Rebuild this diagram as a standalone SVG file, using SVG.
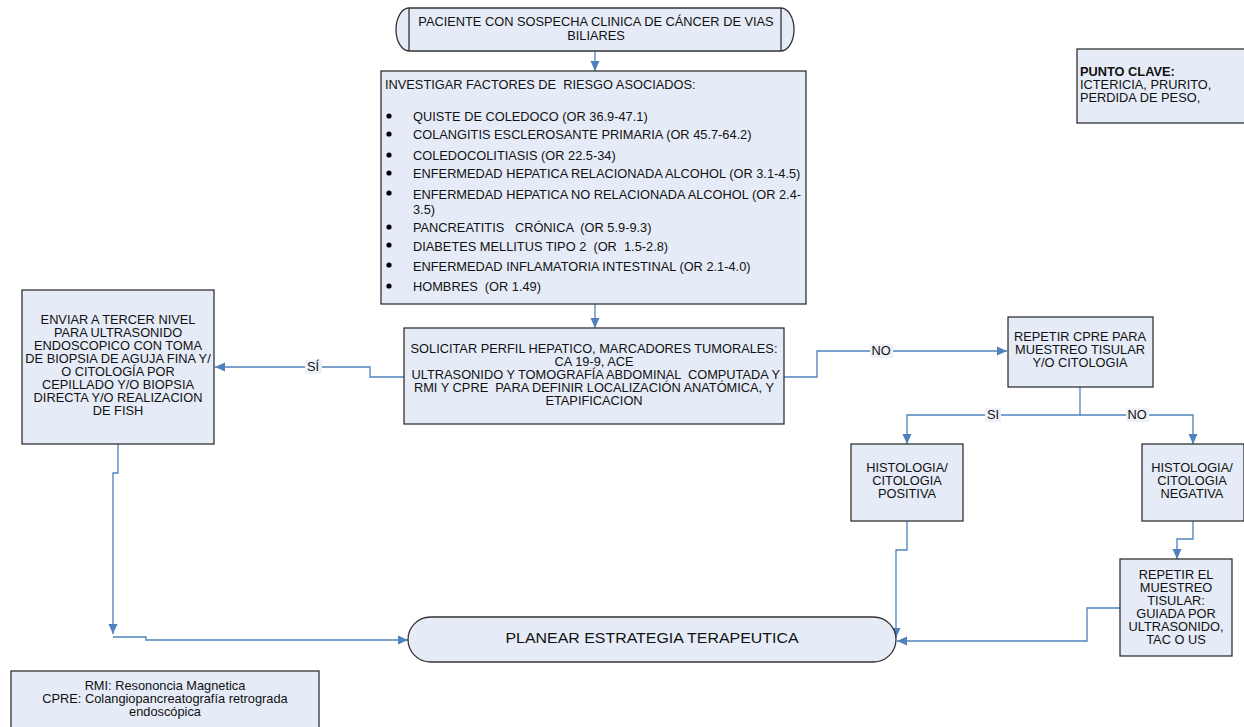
<svg xmlns="http://www.w3.org/2000/svg" width="1244" height="727" viewBox="0 0 1244 727">
<style>
.box{fill:#E6ECF7;stroke:#333;stroke-width:1.3}
.conn{fill:none;stroke:#4F81BD;stroke-width:1.3}
text{font-family:"Liberation Sans",Arial,sans-serif;font-size:12.8px;fill:#111}
.c{text-anchor:middle}
.lbl{fill:#EEF2F8}
</style>
<defs>
<marker id="ah" markerUnits="userSpaceOnUse" markerWidth="10" markerHeight="10" viewBox="0 0 10 10" refX="10" refY="5" orient="auto">
<path d="M0,0.5 L10,5 L0,9.5 z" fill="#4F81BD"/>
</marker>
</defs>
<rect width="1244" height="727" fill="#fff"/>

<g id="connectors">
<path class="conn" d="M595,51 V71" marker-end="url(#ah)"/>
<path class="conn" d="M595,304 V328" marker-end="url(#ah)"/>
<path class="conn" d="M404,377 H370 V367 H215" marker-end="url(#ah)"/>
<path class="conn" d="M784,377 H817 V351 H1007" marker-end="url(#ah)"/>
<path class="conn" d="M1080,387 V415 H907 V444" marker-end="url(#ah)"/>
<path class="conn" d="M1080,415 H1193 V444" marker-end="url(#ah)"/>
<path class="conn" d="M907,521 V550 H896 V638" marker-end="url(#ah)"/>
<path class="conn" d="M1193,521 V539 H1177 V559" marker-end="url(#ah)"/>
<path class="conn" d="M1120,608 H1087 V641 H897" marker-end="url(#ah)"/>
<path class="conn" d="M118,444 V473 H113 V634" marker-end="url(#ah)"/>
<path class="conn" d="M113,637 H146 V640 H408" marker-end="url(#ah)"/>
<rect class="lbl" x="305" y="360" width="17" height="14"/>
<text class="c" x="313" y="371">SÍ</text>
<rect class="lbl" x="870" y="344" width="23" height="14"/>
<text class="c" x="881" y="355">NO</text>
<rect class="lbl" x="985" y="408" width="16" height="14"/>
<text class="c" x="993" y="419">SI</text>
<rect class="lbl" x="1126" y="408" width="23" height="14"/>
<text class="c" x="1137" y="419">NO</text>
</g>

<g id="n-paciente">
<path class="box" d="M409,8 H781 A13,21.5 0 0 1 781,51 H409 A13,21.5 0 0 1 409,8 Z"/>
<path d="M409,8 V51 M781,8 V51" stroke="#333" stroke-width="1.3"/>
<text class="c"><tspan x="596" y="26">PACIENTE CON SOSPECHA CLINICA DE CÁNCER DE VIAS</tspan><tspan x="596" y="40">BILIARES</tspan></text>
</g>

<g id="n-factores">
<rect class="box" x="381" y="71" width="425" height="233"/>
<text x="385" y="89" xml:space="preserve">INVESTIGAR FACTORES DE  RIESGO ASOCIADOS:</text>
<g fill="#000">
<circle cx="389" cy="116" r="2.6"/>
<circle cx="389" cy="134" r="2.6"/>
<circle cx="389" cy="155" r="2.6"/>
<circle cx="389" cy="173" r="2.6"/>
<circle cx="389" cy="193" r="2.6"/>
<circle cx="389" cy="227" r="2.6"/>
<circle cx="389" cy="245" r="2.6"/>
<circle cx="389" cy="265" r="2.6"/>
<circle cx="389" cy="286" r="2.6"/>
</g>
<text x="413" y="121">QUISTE DE COLEDOCO (OR 36.9-47.1)</text>
<text x="413" y="139">COLANGITIS ESCLEROSANTE PRIMARIA (OR 45.7-64.2)</text>
<text x="413" y="160">COLEDOCOLITIASIS (OR 22.5-34)</text>
<text x="413" y="178">ENFERMEDAD HEPATICA RELACIONADA ALCOHOL (OR 3.1-4.5)</text>
<text><tspan x="413" y="199">ENFERMEDAD HEPATICA NO RELACIONADA ALCOHOL (OR 2.4-</tspan><tspan x="413" y="214">3.5)</tspan></text>
<text x="413" y="232" xml:space="preserve">PANCREATITIS   CRÓNICA  (OR 5.9-9.3)</text>
<text x="413" y="251" xml:space="preserve">DIABETES MELLITUS TIPO 2  (OR  1.5-2.8)</text>
<text x="413" y="271">ENFERMEDAD INFLAMATORIA INTESTINAL (OR 2.1-4.0)</text>
<text x="413" y="291" xml:space="preserve">HOMBRES  (OR 1.49)</text>
</g>

<g id="n-punto">
<rect class="box" x="1077" y="49" width="172" height="74"/>
<text><tspan x="1080" y="76" font-weight="bold">PUNTO CLAVE:</tspan><tspan x="1080" y="89">ICTERICIA, PRURITO,</tspan><tspan x="1080" y="102">PERDIDA DE PESO,</tspan></text>
</g>

<g id="n-solicitar">
<rect class="box" x="404" y="328" width="380" height="96"/>
<text class="c" xml:space="preserve"><tspan x="594" y="353">SOLICITAR PERFIL HEPATICO, MARCADORES TUMORALES:</tspan><tspan x="594" y="366">CA 19-9, ACE</tspan><tspan x="594" y="379"> ULTRASONIDO Y TOMOGRAFÍA ABDOMINAL  COMPUTADA Y</tspan><tspan x="594" y="392">RMI Y CPRE  PARA DEFINIR LOCALIZACIÓN ANATÓMICA, Y</tspan><tspan x="594" y="405">ETAPIFICACION</tspan></text>
</g>

<g id="n-tercer">
<rect class="box" x="22" y="290" width="192" height="154"/>
<text class="c"><tspan x="118" y="324">ENVIAR A TERCER NIVEL</tspan><tspan x="118" y="337">PARA ULTRASONIDO</tspan><tspan x="118" y="350">ENDOSCOPICO CON TOMA</tspan><tspan x="118" y="363">DE BIOPSIA DE AGUJA FINA Y/</tspan><tspan x="118" y="376">O CITOLOGÍA POR</tspan><tspan x="118" y="389">CEPILLADO Y/O BIOPSIA</tspan><tspan x="118" y="402">DIRECTA Y/O REALIZACION</tspan><tspan x="118" y="415">DE FISH</tspan></text>
</g>

<g id="n-repetir-cpre">
<rect class="box" x="1008" y="317" width="145" height="70"/>
<text class="c"><tspan x="1080" y="341">REPETIR CPRE PARA</tspan><tspan x="1080" y="354">MUESTREO TISULAR</tspan><tspan x="1080" y="367">Y/O CITOLOGIA</tspan></text>
</g>

<g id="n-positiva">
<rect class="box" x="851" y="444" width="112" height="77"/>
<text class="c"><tspan x="907" y="472">HISTOLOGIA/</tspan><tspan x="907" y="485">CITOLOGIA</tspan><tspan x="907" y="498">POSITIVA</tspan></text>
</g>

<g id="n-negativa">
<rect class="box" x="1142" y="444" width="102" height="77"/>
<text class="c"><tspan x="1192" y="472">HISTOLOGIA/</tspan><tspan x="1192" y="485">CITOLOGIA</tspan><tspan x="1192" y="498">NEGATIVA</tspan></text>
</g>

<g id="n-repetir-muestreo">
<rect class="box" x="1120" y="559" width="112" height="97"/>
<text class="c"><tspan x="1176" y="579">REPETIR EL</tspan><tspan x="1176" y="592">MUESTREO</tspan><tspan x="1176" y="605">TISULAR:</tspan><tspan x="1176" y="618">GUIADA POR</tspan><tspan x="1176" y="631">ULTRASONIDO,</tspan><tspan x="1176" y="644">TAC O US</tspan></text>
</g>

<g id="n-planear">
<rect class="box" x="408" y="617" width="488" height="45" rx="22.5" ry="22.5"/>
<text class="c" x="652" y="643" style="font-size:15px" textLength="293" lengthAdjust="spacingAndGlyphs">PLANEAR ESTRATEGIA TERAPEUTICA</text>
</g>

<g id="n-nota">
<rect class="box" x="11" y="671" width="308" height="62"/>
<text class="c"><tspan x="165" y="690">RMI: Resononcia Magnetica</tspan><tspan x="165" y="703">CPRE: Colangiopancreatografía retrograda</tspan><tspan x="165" y="716">endoscópica</tspan></text>
</g>
</svg>
